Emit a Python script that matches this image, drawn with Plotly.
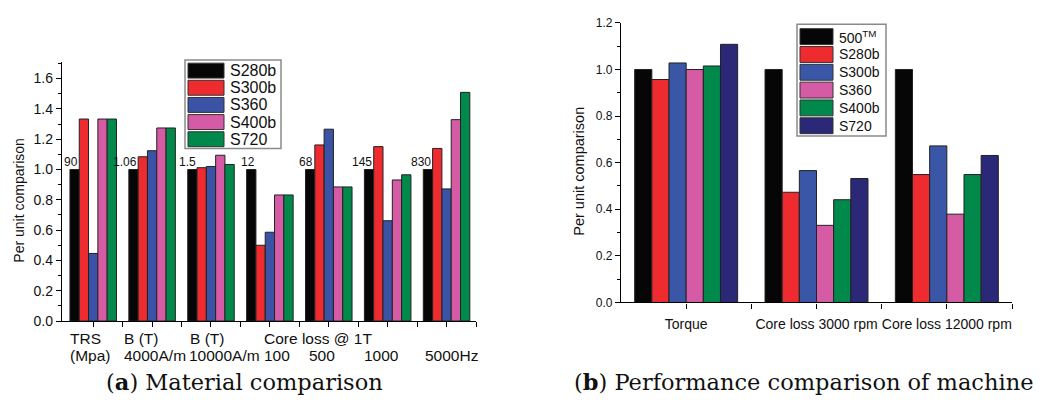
import plotly.graph_objects as go

# ---------------- data ----------------
left_series = ["S280b", "S300b", "S360", "S400b", "S720"]
left_s280b = [1.0, 1.0, 1.0, 1.0, 1.0, 1.0, 1.0]
left_s300b = [1.333, 1.084, 1.012, 0.50, 1.162, 1.151, 1.139]
left_s360 = [0.446, 1.124, 1.020, 0.586, 1.266, 0.662, 0.872]
left_s400b = [1.333, 1.274, 1.094, 0.832, 0.885, 0.931, 1.329]
left_s720 = [1.333, 1.274, 1.033, 0.832, 0.885, 0.965, 1.509]
left_values = [left_s280b, left_s300b, left_s360, left_s400b, left_s720]
left_base_labels = ["90", "1.06", "1.5", "12", "68", "145", "830"]
left_cat_line1 = [("TRS", 68), ("B (T)", 122), ("B (T)", 188), ("Core loss @ 1T", 262)]
left_cat_line2 = [("(Mpa)", 68), ("4000A/m", 122), ("10000A/m", 187), ("100", 262),
                  ("500", 307), ("1000", 362), ("5000Hz", 423)]

right_series = ["500<sup>TM</sup>", "S280b", "S300b", "S360", "S400b", "S720"]
right_categories = ["Torque", "Core loss 3000 rpm", "Core loss 12000 rpm"]
right_500 = [1.0, 1.0, 1.0]
right_s280b = [0.957, 0.473, 0.549]
right_s300b = [1.028, 0.566, 0.672]
right_s360 = [1.000, 0.331, 0.379]
right_s400b = [1.015, 0.441, 0.549]
right_s720 = [1.108, 0.532, 0.631]
right_values = [right_500, right_s280b, right_s300b, right_s360, right_s400b, right_s720]

left_colors = ["#060606", "#EE2B2F", "#3A53A4", "#D65BA5", "#00894A"]
right_colors = ["#060606", "#EE2B2F", "#3A56A6", "#D65BA5", "#00894A", "#2B2878"]

W, H = 1042, 409
SANS = "Arial"
SERIF = "DejaVu Serif, serif"
BARGAP = 0.21


def px(x):
    return x / W


def py(y):
    return (H - y) / H


fig = go.Figure()

left_x = list(range(len(left_base_labels)))
for name, vals, col in zip(left_series, left_values, left_colors):
    fig.add_trace(go.Bar(x=left_x, y=vals, name=name, marker_color=col,
                         marker_line=dict(color="#222222", width=1),
                         xaxis="x", yaxis="y", showlegend=False))

right_x = list(range(len(right_categories)))
for name, vals, col in zip(right_series, right_values, right_colors):
    fig.add_trace(go.Bar(x=right_x, y=vals, name=name, marker_color=col,
                         marker_line=dict(color="#222222", width=1),
                         xaxis="x2", yaxis="y2", showlegend=False))

axis_common = dict(showline=True, linecolor="black", linewidth=1.3, ticks="outside",
                   ticklen=5, tickwidth=1.2, tickcolor="black", showgrid=False,
                   zeroline=False, mirror=False)

annotations = []
shapes = []

# left value labels above first bar of each group
gw = 1 - BARGAP
bw = gw / len(left_series)
for i, lab in enumerate(left_base_labels):
    annotations.append(dict(x=i - gw / 2 + bw + 0.01, y=1.0, xref="x", yref="y", text=lab,
                            xanchor="right", yanchor="bottom", showarrow=False,
                            font=dict(family=SANS, size=12, color="#111"), yshift=-2))

# left category labels
for t, x0 in left_cat_line1:
    annotations.append(dict(x=px(x0), y=py(344), xref="paper", yref="paper", text=t,
                            xanchor="left", yanchor="middle", showarrow=False,
                            font=dict(family=SANS, size=15.5, color="#111")))
for t, x0 in left_cat_line2:
    annotations.append(dict(x=px(x0), y=py(362), xref="paper", yref="paper", text=t,
                            xanchor="left", yanchor="middle", showarrow=False,
                            font=dict(family=SANS, size=15.5, color="#111")))

# y titles
annotations.append(dict(x=px(19), y=py(201), xref="paper", yref="paper",
                        text="Per unit comparison", textangle=-90, showarrow=False,
                        xanchor="center", yanchor="middle",
                        font=dict(family=SANS, size=14, color="#111")))
annotations.append(dict(x=px(579), y=py(171), xref="paper", yref="paper",
                        text="Per unit comparison", textangle=-90, showarrow=False,
                        xanchor="center", yanchor="middle",
                        font=dict(family=SANS, size=14.5, color="#111")))

# captions
annotations.append(dict(x=px(104), y=py(389), xref="paper", yref="paper",
                        text="(<b>a</b>) Material comparison", showarrow=False,
                        xanchor="left", yanchor="middle",
                        font=dict(family=SERIF, size=22.5, color="#111")))
annotations.append(dict(x=px(572), y=py(389), xref="paper", yref="paper",
                        text="(<b>b</b>) Performance comparison of machine", showarrow=False,
                        xanchor="left", yanchor="middle",
                        font=dict(family=SERIF, size=22.5, color="#111")))


# manual legends
def legend(names, colors, box, sw_x, text_x, row0, pitch, sw_h, fsize):
    shapes.append(dict(type="rect", xref="paper", yref="paper",
                       x0=px(box[0]), x1=px(box[1]), y0=py(box[3]), y1=py(box[2]),
                       line=dict(color="#8a8a8a", width=1.5), fillcolor="white", layer="above"))
    for k, (n, c) in enumerate(zip(names, colors)):
        top = row0 + k * pitch
        shapes.append(dict(type="rect", xref="paper", yref="paper",
                           x0=px(sw_x[0]), x1=px(sw_x[1]), y0=py(top + sw_h), y1=py(top),
                           line=dict(color="#333333", width=1), fillcolor=c, layer="above"))
        annotations.append(dict(x=px(text_x), y=py(top + sw_h / 2), xref="paper", yref="paper",
                                text=n, showarrow=False, xanchor="left", yanchor="middle",
                                font=dict(family=SANS, size=fsize, color="#111")))


legend(left_series, left_colors, (185, 281, 55, 147), (188, 224), 228, 58.3, 17.8, 15.5, 16)
legend(right_series, right_colors, (797, 886, 18, 134), (800, 833), 837, 22.5, 18.5, 16.5, 14)

fig.update_layout(
    width=W, height=H, margin=dict(l=0, r=0, t=0, b=0),
    paper_bgcolor="white", plot_bgcolor="white",
    font=dict(family=SANS),
    barmode="group", bargap=BARGAP, bargroupgap=0,
    showlegend=False,
    xaxis=dict(domain=[px(62), px(476)], range=[-0.53, 6.5], anchor="y",
               tickvals=left_x, showticklabels=False,
               minor=dict(tickvals=[i + 0.5 for i in left_x], ticks="outside", ticklen=5,
                          tickwidth=1.2, tickcolor="black"),
               **axis_common),
    yaxis=dict(domain=[py(326), py(57)], range=[0, 1.71], anchor="x",
               dtick=0.2, tick0=0, tickformat=".1f",
               tickfont=dict(family=SANS, size=14, color="#111"),
               minor=dict(dtick=0.1, ticks="outside", ticklen=3, tickwidth=1.2, tickcolor="black"),
               **axis_common),
    xaxis2=dict(domain=[px(621), px(1012)], range=[-0.5, 2.5], anchor="y2",
                tickvals=right_x, ticktext=right_categories, ticklabelstandoff=4,
                tickfont=dict(family=SANS, size=14, color="#111"),
                minor=dict(tickvals=[i + 0.5 for i in right_x], ticks="outside", ticklen=5,
                           tickwidth=1.2, tickcolor="black"),
                **axis_common),
    yaxis2=dict(domain=[py(306.7), py(16.5)], range=[0, 1.2], anchor="x2",
                dtick=0.2, tick0=0, tickformat=".1f",
                tickfont=dict(family=SANS, size=12, color="#111"),
                minor=dict(dtick=0.1, ticks="outside", ticklen=3, tickwidth=1.2, tickcolor="black"),
                **axis_common),
    annotations=annotations, shapes=shapes,
)

fig.write_html("out.html")
